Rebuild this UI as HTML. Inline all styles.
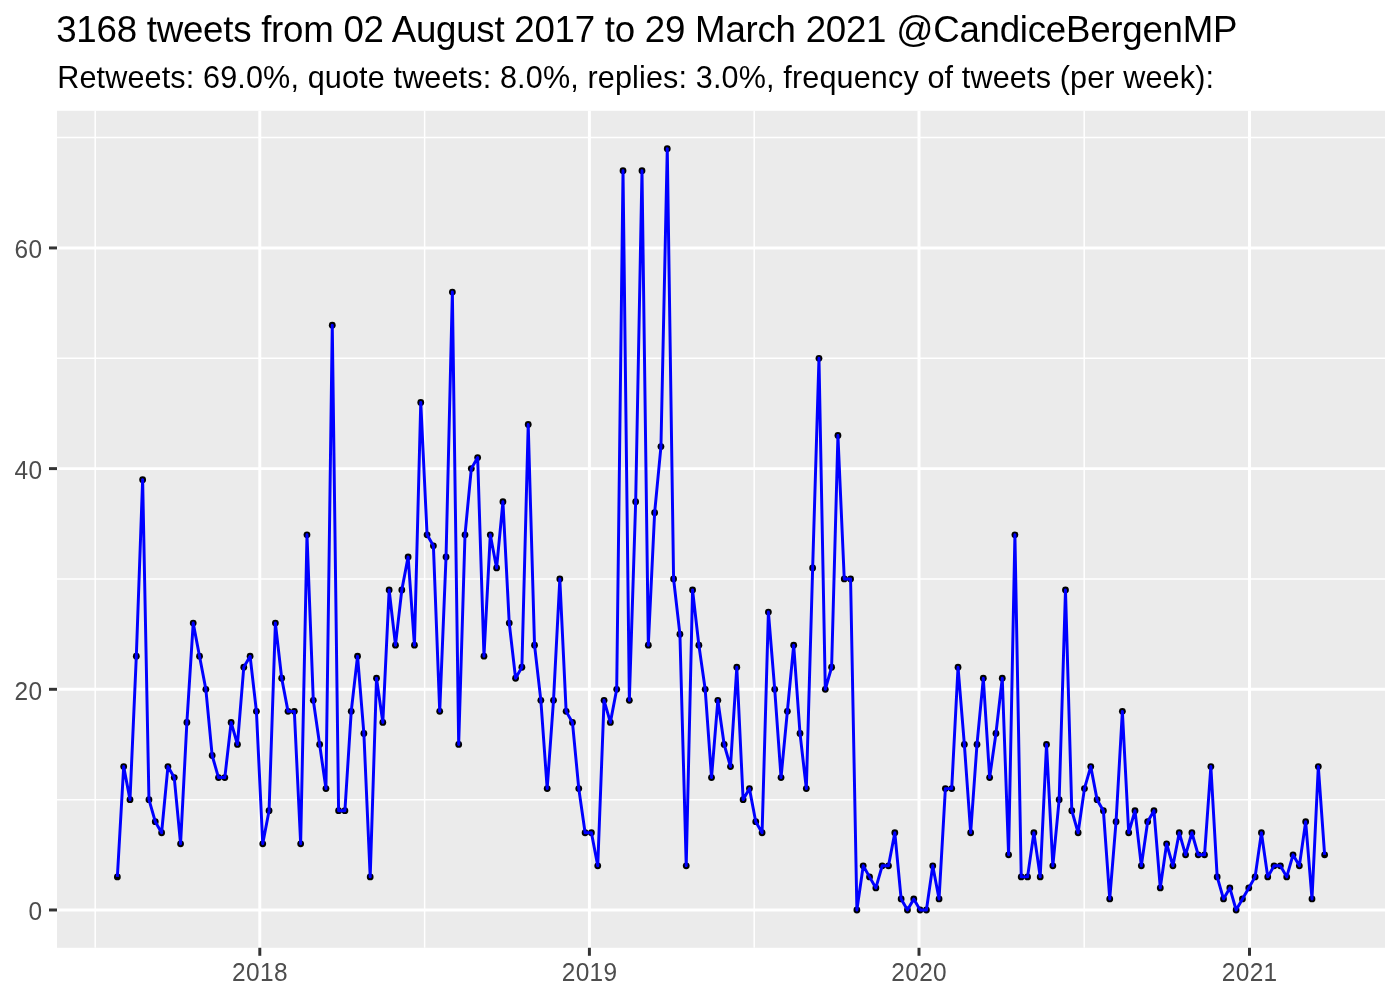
<!DOCTYPE html>
<html><head><meta charset="utf-8"><title>tweets</title>
<style>
html,body{margin:0;padding:0;background:#fff;}
body{width:1400px;height:1000px;overflow:hidden;font-family:"Liberation Sans",sans-serif;}
svg{display:block;will-change:transform;}
text{font-family:"Liberation Sans",sans-serif;}
.ax{font-size:24.44px;fill:#4d4d4d;}
.ti{font-size:36.67px;fill:#000;}
.su{font-size:30.56px;fill:#000;}
</style></head><body>
<svg width="1400" height="1000" viewBox="0 0 1400 1000">
<rect x="0" y="0" width="1400" height="1000" fill="#fff"/>
<text id="ti" x="56.2" y="42.4" class="ti" textLength="1181.3" lengthAdjust="spacing">3168 tweets from 02 August 2017 to 29 March 2021 @CandiceBergenMP</text>
<text id="su" x="57.2" y="87.6" class="su" textLength="1156.8" lengthAdjust="spacing">Retweets: 69.0%, quote tweets: 8.0%, replies: 3.0%, frequency of tweets (per week):</text>
<rect x="57.0" y="110.8" width="1328.0" height="837.0" fill="#ebebeb"/>
<line x1="95.2" x2="95.2" y1="110.8" y2="947.8" stroke="#fff" stroke-width="1.48"/><line x1="424.6" x2="424.6" y1="110.8" y2="947.8" stroke="#fff" stroke-width="1.48"/><line x1="754.2" x2="754.2" y1="110.8" y2="947.8" stroke="#fff" stroke-width="1.48"/><line x1="1084.2" x2="1084.2" y1="110.8" y2="947.8" stroke="#fff" stroke-width="1.48"/><line x1="57.0" x2="1385.0" y1="799.64" y2="799.64" stroke="#fff" stroke-width="1.48"/><line x1="57.0" x2="1385.0" y1="578.96" y2="578.96" stroke="#fff" stroke-width="1.48"/><line x1="57.0" x2="1385.0" y1="358.28" y2="358.28" stroke="#fff" stroke-width="1.48"/><line x1="57.0" x2="1385.0" y1="137.60" y2="137.60" stroke="#fff" stroke-width="1.48"/><line x1="259.8" x2="259.8" y1="110.8" y2="947.8" stroke="#fff" stroke-width="2.96"/><line x1="589.4" x2="589.4" y1="110.8" y2="947.8" stroke="#fff" stroke-width="2.96"/><line x1="919.0" x2="919.0" y1="110.8" y2="947.8" stroke="#fff" stroke-width="2.96"/><line x1="1249.5" x2="1249.5" y1="110.8" y2="947.8" stroke="#fff" stroke-width="2.96"/><line x1="57.0" x2="1385.0" y1="909.98" y2="909.98" stroke="#fff" stroke-width="2.96"/><line x1="57.0" x2="1385.0" y1="689.30" y2="689.30" stroke="#fff" stroke-width="2.96"/><line x1="57.0" x2="1385.0" y1="468.62" y2="468.62" stroke="#fff" stroke-width="2.96"/><line x1="57.0" x2="1385.0" y1="247.94" y2="247.94" stroke="#fff" stroke-width="2.96"/>
<g fill="#000"><circle cx="117.36" cy="876.88" r="3.4"/><circle cx="123.68" cy="766.54" r="3.4"/><circle cx="130.00" cy="799.64" r="3.4"/><circle cx="136.32" cy="656.20" r="3.4"/><circle cx="142.64" cy="479.65" r="3.4"/><circle cx="148.96" cy="799.64" r="3.4"/><circle cx="155.28" cy="821.71" r="3.4"/><circle cx="161.61" cy="832.74" r="3.4"/><circle cx="167.93" cy="766.54" r="3.4"/><circle cx="174.25" cy="777.57" r="3.4"/><circle cx="180.57" cy="843.78" r="3.4"/><circle cx="186.89" cy="722.40" r="3.4"/><circle cx="193.21" cy="623.10" r="3.4"/><circle cx="199.53" cy="656.20" r="3.4"/><circle cx="205.85" cy="689.30" r="3.4"/><circle cx="212.17" cy="755.50" r="3.4"/><circle cx="218.49" cy="777.57" r="3.4"/><circle cx="224.81" cy="777.57" r="3.4"/><circle cx="231.13" cy="722.40" r="3.4"/><circle cx="237.46" cy="744.47" r="3.4"/><circle cx="243.78" cy="667.23" r="3.4"/><circle cx="250.10" cy="656.20" r="3.4"/><circle cx="256.42" cy="711.37" r="3.4"/><circle cx="262.74" cy="843.78" r="3.4"/><circle cx="269.06" cy="810.67" r="3.4"/><circle cx="275.38" cy="623.10" r="3.4"/><circle cx="281.70" cy="678.27" r="3.4"/><circle cx="288.02" cy="711.37" r="3.4"/><circle cx="294.34" cy="711.37" r="3.4"/><circle cx="300.66" cy="843.78" r="3.4"/><circle cx="306.98" cy="534.82" r="3.4"/><circle cx="313.30" cy="700.33" r="3.4"/><circle cx="319.63" cy="744.47" r="3.4"/><circle cx="325.95" cy="788.61" r="3.4"/><circle cx="332.27" cy="325.18" r="3.4"/><circle cx="338.59" cy="810.67" r="3.4"/><circle cx="344.91" cy="810.67" r="3.4"/><circle cx="351.23" cy="711.37" r="3.4"/><circle cx="357.55" cy="656.20" r="3.4"/><circle cx="363.87" cy="733.44" r="3.4"/><circle cx="370.19" cy="876.88" r="3.4"/><circle cx="376.51" cy="678.27" r="3.4"/><circle cx="382.83" cy="722.40" r="3.4"/><circle cx="389.15" cy="589.99" r="3.4"/><circle cx="395.48" cy="645.16" r="3.4"/><circle cx="401.80" cy="589.99" r="3.4"/><circle cx="408.12" cy="556.89" r="3.4"/><circle cx="414.44" cy="645.16" r="3.4"/><circle cx="420.76" cy="402.42" r="3.4"/><circle cx="427.08" cy="534.82" r="3.4"/><circle cx="433.40" cy="545.86" r="3.4"/><circle cx="439.72" cy="711.37" r="3.4"/><circle cx="446.04" cy="556.89" r="3.4"/><circle cx="452.36" cy="292.08" r="3.4"/><circle cx="458.68" cy="744.47" r="3.4"/><circle cx="465.00" cy="534.82" r="3.4"/><circle cx="471.32" cy="468.62" r="3.4"/><circle cx="477.65" cy="457.59" r="3.4"/><circle cx="483.97" cy="656.20" r="3.4"/><circle cx="490.29" cy="534.82" r="3.4"/><circle cx="496.61" cy="567.93" r="3.4"/><circle cx="502.93" cy="501.72" r="3.4"/><circle cx="509.25" cy="623.10" r="3.4"/><circle cx="515.57" cy="678.27" r="3.4"/><circle cx="521.89" cy="667.23" r="3.4"/><circle cx="528.21" cy="424.48" r="3.4"/><circle cx="534.53" cy="645.16" r="3.4"/><circle cx="540.85" cy="700.33" r="3.4"/><circle cx="547.17" cy="788.61" r="3.4"/><circle cx="553.50" cy="700.33" r="3.4"/><circle cx="559.82" cy="578.96" r="3.4"/><circle cx="566.14" cy="711.37" r="3.4"/><circle cx="572.46" cy="722.40" r="3.4"/><circle cx="578.78" cy="788.61" r="3.4"/><circle cx="585.10" cy="832.74" r="3.4"/><circle cx="591.42" cy="832.74" r="3.4"/><circle cx="597.74" cy="865.84" r="3.4"/><circle cx="604.06" cy="700.33" r="3.4"/><circle cx="610.38" cy="722.40" r="3.4"/><circle cx="616.70" cy="689.30" r="3.4"/><circle cx="623.02" cy="170.70" r="3.4"/><circle cx="629.34" cy="700.33" r="3.4"/><circle cx="635.67" cy="501.72" r="3.4"/><circle cx="641.99" cy="170.70" r="3.4"/><circle cx="648.31" cy="645.16" r="3.4"/><circle cx="654.63" cy="512.76" r="3.4"/><circle cx="660.95" cy="446.55" r="3.4"/><circle cx="667.27" cy="148.63" r="3.4"/><circle cx="673.59" cy="578.96" r="3.4"/><circle cx="679.91" cy="634.13" r="3.4"/><circle cx="686.23" cy="865.84" r="3.4"/><circle cx="692.55" cy="589.99" r="3.4"/><circle cx="698.87" cy="645.16" r="3.4"/><circle cx="705.19" cy="689.30" r="3.4"/><circle cx="711.52" cy="777.57" r="3.4"/><circle cx="717.84" cy="700.33" r="3.4"/><circle cx="724.16" cy="744.47" r="3.4"/><circle cx="730.48" cy="766.54" r="3.4"/><circle cx="736.80" cy="667.23" r="3.4"/><circle cx="743.12" cy="799.64" r="3.4"/><circle cx="749.44" cy="788.61" r="3.4"/><circle cx="755.76" cy="821.71" r="3.4"/><circle cx="762.08" cy="832.74" r="3.4"/><circle cx="768.40" cy="612.06" r="3.4"/><circle cx="774.72" cy="689.30" r="3.4"/><circle cx="781.04" cy="777.57" r="3.4"/><circle cx="787.36" cy="711.37" r="3.4"/><circle cx="793.69" cy="645.16" r="3.4"/><circle cx="800.01" cy="733.44" r="3.4"/><circle cx="806.33" cy="788.61" r="3.4"/><circle cx="812.65" cy="567.93" r="3.4"/><circle cx="818.97" cy="358.28" r="3.4"/><circle cx="825.29" cy="689.30" r="3.4"/><circle cx="831.61" cy="667.23" r="3.4"/><circle cx="837.93" cy="435.52" r="3.4"/><circle cx="844.25" cy="578.96" r="3.4"/><circle cx="850.57" cy="578.96" r="3.4"/><circle cx="856.89" cy="909.98" r="3.4"/><circle cx="863.21" cy="865.84" r="3.4"/><circle cx="869.54" cy="876.88" r="3.4"/><circle cx="875.86" cy="887.91" r="3.4"/><circle cx="882.18" cy="865.84" r="3.4"/><circle cx="888.50" cy="865.84" r="3.4"/><circle cx="894.82" cy="832.74" r="3.4"/><circle cx="901.14" cy="898.95" r="3.4"/><circle cx="907.46" cy="909.98" r="3.4"/><circle cx="913.78" cy="898.95" r="3.4"/><circle cx="920.10" cy="909.98" r="3.4"/><circle cx="926.42" cy="909.98" r="3.4"/><circle cx="932.74" cy="865.84" r="3.4"/><circle cx="939.06" cy="898.95" r="3.4"/><circle cx="945.38" cy="788.61" r="3.4"/><circle cx="951.71" cy="788.61" r="3.4"/><circle cx="958.03" cy="667.23" r="3.4"/><circle cx="964.35" cy="744.47" r="3.4"/><circle cx="970.67" cy="832.74" r="3.4"/><circle cx="976.99" cy="744.47" r="3.4"/><circle cx="983.31" cy="678.27" r="3.4"/><circle cx="989.63" cy="777.57" r="3.4"/><circle cx="995.95" cy="733.44" r="3.4"/><circle cx="1002.27" cy="678.27" r="3.4"/><circle cx="1008.59" cy="854.81" r="3.4"/><circle cx="1014.91" cy="534.82" r="3.4"/><circle cx="1021.23" cy="876.88" r="3.4"/><circle cx="1027.56" cy="876.88" r="3.4"/><circle cx="1033.88" cy="832.74" r="3.4"/><circle cx="1040.20" cy="876.88" r="3.4"/><circle cx="1046.52" cy="744.47" r="3.4"/><circle cx="1052.84" cy="865.84" r="3.4"/><circle cx="1059.16" cy="799.64" r="3.4"/><circle cx="1065.48" cy="589.99" r="3.4"/><circle cx="1071.80" cy="810.67" r="3.4"/><circle cx="1078.12" cy="832.74" r="3.4"/><circle cx="1084.44" cy="788.61" r="3.4"/><circle cx="1090.76" cy="766.54" r="3.4"/><circle cx="1097.08" cy="799.64" r="3.4"/><circle cx="1103.40" cy="810.67" r="3.4"/><circle cx="1109.73" cy="898.95" r="3.4"/><circle cx="1116.05" cy="821.71" r="3.4"/><circle cx="1122.37" cy="711.37" r="3.4"/><circle cx="1128.69" cy="832.74" r="3.4"/><circle cx="1135.01" cy="810.67" r="3.4"/><circle cx="1141.33" cy="865.84" r="3.4"/><circle cx="1147.65" cy="821.71" r="3.4"/><circle cx="1153.97" cy="810.67" r="3.4"/><circle cx="1160.29" cy="887.91" r="3.4"/><circle cx="1166.61" cy="843.78" r="3.4"/><circle cx="1172.93" cy="865.84" r="3.4"/><circle cx="1179.25" cy="832.74" r="3.4"/><circle cx="1185.58" cy="854.81" r="3.4"/><circle cx="1191.90" cy="832.74" r="3.4"/><circle cx="1198.22" cy="854.81" r="3.4"/><circle cx="1204.54" cy="854.81" r="3.4"/><circle cx="1210.86" cy="766.54" r="3.4"/><circle cx="1217.18" cy="876.88" r="3.4"/><circle cx="1223.50" cy="898.95" r="3.4"/><circle cx="1229.82" cy="887.91" r="3.4"/><circle cx="1236.14" cy="909.98" r="3.4"/><circle cx="1242.46" cy="898.95" r="3.4"/><circle cx="1248.78" cy="887.91" r="3.4"/><circle cx="1255.10" cy="876.88" r="3.4"/><circle cx="1261.42" cy="832.74" r="3.4"/><circle cx="1267.75" cy="876.88" r="3.4"/><circle cx="1274.07" cy="865.84" r="3.4"/><circle cx="1280.39" cy="865.84" r="3.4"/><circle cx="1286.71" cy="876.88" r="3.4"/><circle cx="1293.03" cy="854.81" r="3.4"/><circle cx="1299.35" cy="865.84" r="3.4"/><circle cx="1305.67" cy="821.71" r="3.4"/><circle cx="1311.99" cy="898.95" r="3.4"/><circle cx="1318.31" cy="766.54" r="3.4"/><circle cx="1324.63" cy="854.81" r="3.4"/></g>
<polyline points="117.36,876.88 123.68,766.54 130.00,799.64 136.32,656.20 142.64,479.65 148.96,799.64 155.28,821.71 161.61,832.74 167.93,766.54 174.25,777.57 180.57,843.78 186.89,722.40 193.21,623.10 199.53,656.20 205.85,689.30 212.17,755.50 218.49,777.57 224.81,777.57 231.13,722.40 237.46,744.47 243.78,667.23 250.10,656.20 256.42,711.37 262.74,843.78 269.06,810.67 275.38,623.10 281.70,678.27 288.02,711.37 294.34,711.37 300.66,843.78 306.98,534.82 313.30,700.33 319.63,744.47 325.95,788.61 332.27,325.18 338.59,810.67 344.91,810.67 351.23,711.37 357.55,656.20 363.87,733.44 370.19,876.88 376.51,678.27 382.83,722.40 389.15,589.99 395.48,645.16 401.80,589.99 408.12,556.89 414.44,645.16 420.76,402.42 427.08,534.82 433.40,545.86 439.72,711.37 446.04,556.89 452.36,292.08 458.68,744.47 465.00,534.82 471.32,468.62 477.65,457.59 483.97,656.20 490.29,534.82 496.61,567.93 502.93,501.72 509.25,623.10 515.57,678.27 521.89,667.23 528.21,424.48 534.53,645.16 540.85,700.33 547.17,788.61 553.50,700.33 559.82,578.96 566.14,711.37 572.46,722.40 578.78,788.61 585.10,832.74 591.42,832.74 597.74,865.84 604.06,700.33 610.38,722.40 616.70,689.30 623.02,170.70 629.34,700.33 635.67,501.72 641.99,170.70 648.31,645.16 654.63,512.76 660.95,446.55 667.27,148.63 673.59,578.96 679.91,634.13 686.23,865.84 692.55,589.99 698.87,645.16 705.19,689.30 711.52,777.57 717.84,700.33 724.16,744.47 730.48,766.54 736.80,667.23 743.12,799.64 749.44,788.61 755.76,821.71 762.08,832.74 768.40,612.06 774.72,689.30 781.04,777.57 787.36,711.37 793.69,645.16 800.01,733.44 806.33,788.61 812.65,567.93 818.97,358.28 825.29,689.30 831.61,667.23 837.93,435.52 844.25,578.96 850.57,578.96 856.89,909.98 863.21,865.84 869.54,876.88 875.86,887.91 882.18,865.84 888.50,865.84 894.82,832.74 901.14,898.95 907.46,909.98 913.78,898.95 920.10,909.98 926.42,909.98 932.74,865.84 939.06,898.95 945.38,788.61 951.71,788.61 958.03,667.23 964.35,744.47 970.67,832.74 976.99,744.47 983.31,678.27 989.63,777.57 995.95,733.44 1002.27,678.27 1008.59,854.81 1014.91,534.82 1021.23,876.88 1027.56,876.88 1033.88,832.74 1040.20,876.88 1046.52,744.47 1052.84,865.84 1059.16,799.64 1065.48,589.99 1071.80,810.67 1078.12,832.74 1084.44,788.61 1090.76,766.54 1097.08,799.64 1103.40,810.67 1109.73,898.95 1116.05,821.71 1122.37,711.37 1128.69,832.74 1135.01,810.67 1141.33,865.84 1147.65,821.71 1153.97,810.67 1160.29,887.91 1166.61,843.78 1172.93,865.84 1179.25,832.74 1185.58,854.81 1191.90,832.74 1198.22,854.81 1204.54,854.81 1210.86,766.54 1217.18,876.88 1223.50,898.95 1229.82,887.91 1236.14,909.98 1242.46,898.95 1248.78,887.91 1255.10,876.88 1261.42,832.74 1267.75,876.88 1274.07,865.84 1280.39,865.84 1286.71,876.88 1293.03,854.81 1299.35,865.84 1305.67,821.71 1311.99,898.95 1318.31,766.54 1324.63,854.81" fill="none" stroke="#0000ff" stroke-width="2.96" stroke-linejoin="round" stroke-linecap="butt"/>
<line x1="259.8" x2="259.8" y1="947.8" y2="955.8" stroke="#333" stroke-width="2.96"/><line x1="589.4" x2="589.4" y1="947.8" y2="955.8" stroke="#333" stroke-width="2.96"/><line x1="919.0" x2="919.0" y1="947.8" y2="955.8" stroke="#333" stroke-width="2.96"/><line x1="1249.5" x2="1249.5" y1="947.8" y2="955.8" stroke="#333" stroke-width="2.96"/><line x1="49.0" x2="57.0" y1="909.98" y2="909.98" stroke="#333" stroke-width="2.96"/><line x1="49.0" x2="57.0" y1="689.30" y2="689.30" stroke="#333" stroke-width="2.96"/><line x1="49.0" x2="57.0" y1="468.62" y2="468.62" stroke="#333" stroke-width="2.96"/><line x1="49.0" x2="57.0" y1="247.94" y2="247.94" stroke="#333" stroke-width="2.96"/>
<text transform="translate(259.8,980.65) scale(1,1.07)" text-anchor="middle" textLength="55.4" lengthAdjust="spacing" class="ax">2018</text><text transform="translate(589.4,980.65) scale(1,1.07)" text-anchor="middle" textLength="55.4" lengthAdjust="spacing" class="ax">2019</text><text transform="translate(919.0,980.65) scale(1,1.07)" text-anchor="middle" textLength="55.4" lengthAdjust="spacing" class="ax">2020</text><text transform="translate(1249.5,980.65) scale(1,1.07)" text-anchor="middle" textLength="55.4" lengthAdjust="spacing" class="ax">2021</text><text transform="translate(42.2,920.18) scale(1,1.07)" text-anchor="end" class="ax">0</text><text transform="translate(42.2,699.50) scale(1,1.07)" text-anchor="end" textLength="27.8" lengthAdjust="spacing" class="ax">20</text><text transform="translate(42.2,478.82) scale(1,1.07)" text-anchor="end" textLength="27.8" lengthAdjust="spacing" class="ax">40</text><text transform="translate(42.2,258.14) scale(1,1.07)" text-anchor="end" textLength="27.8" lengthAdjust="spacing" class="ax">60</text>
</svg>
</body></html>
